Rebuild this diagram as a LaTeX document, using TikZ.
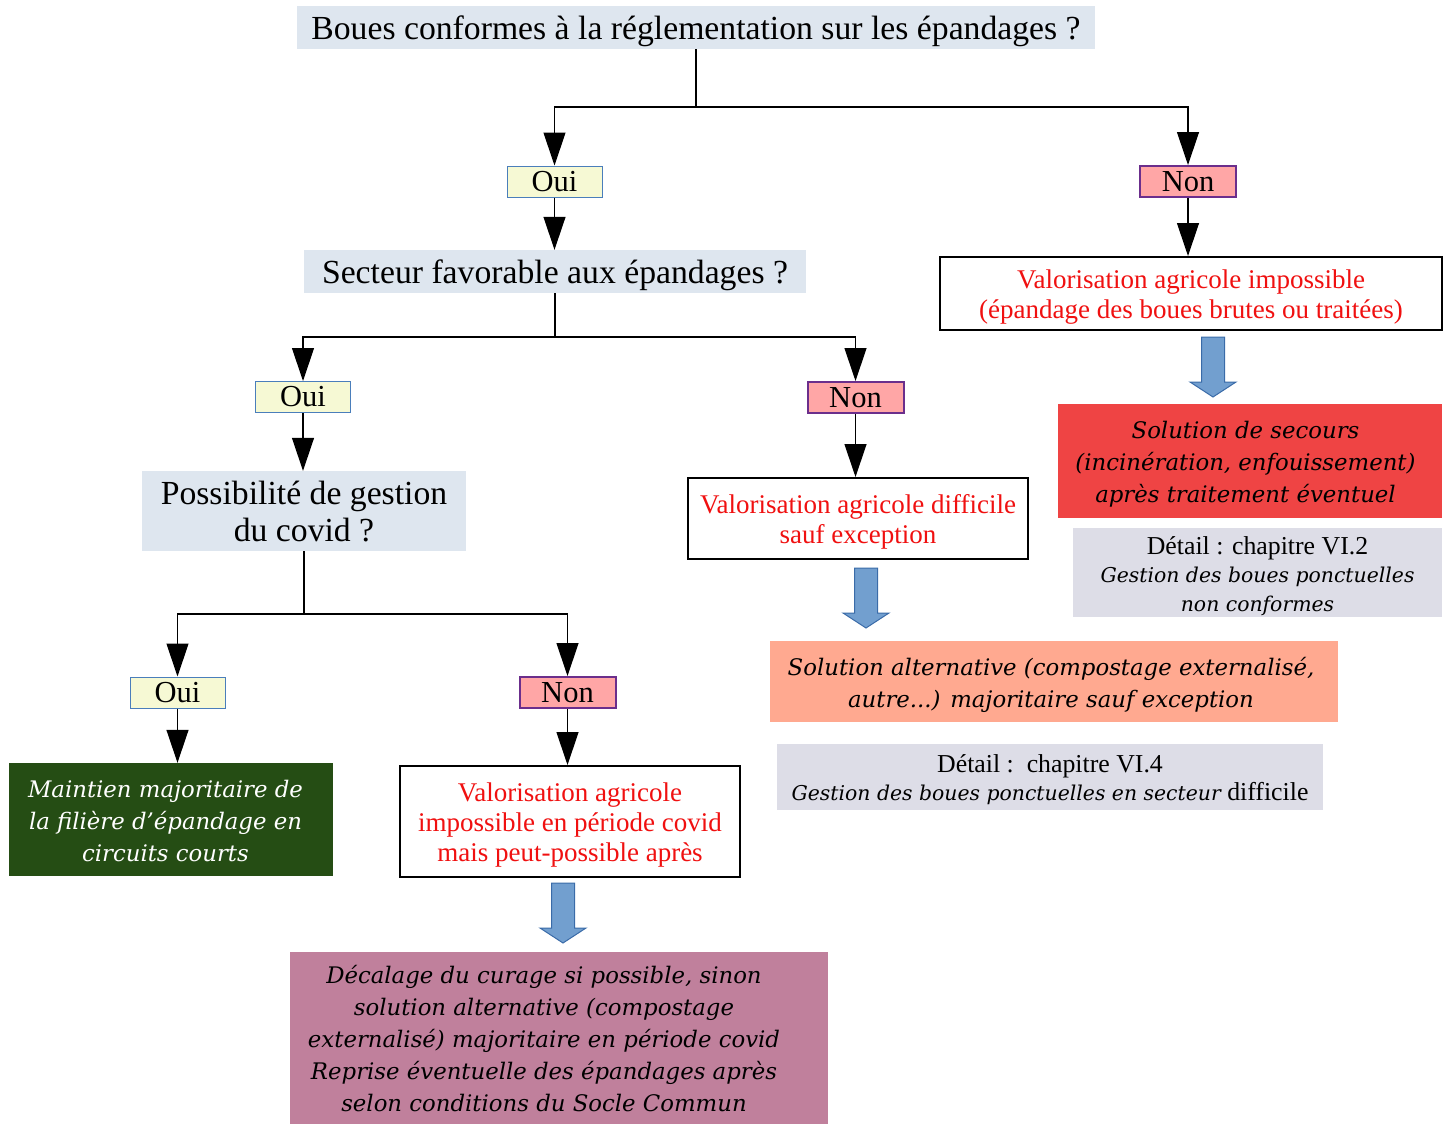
\documentclass[tikz,border=0pt]{standalone}
\usepackage{fontspec}
\setmainfont{Liberation Serif}
\newfontfamily\dvserif{DejaVu Serif}
\usetikzlibrary{arrows.meta}

\definecolor{qfill}{HTML}{DEE6EF}
\definecolor{ouifill}{HTML}{F6F9D4}
\definecolor{ouiline}{HTML}{4A7EBB}
\definecolor{nonfill}{HTML}{FFA6A6}
\definecolor{nonline}{HTML}{6B2E8C}
\definecolor{vred}{HTML}{F01010}
\definecolor{keepgreen}{HTML}{254D14}
\definecolor{backupred}{HTML}{EF4444}
\definecolor{altorange}{HTML}{FFA990}
\definecolor{covidpink}{HTML}{C0809C}
\definecolor{detfill}{HTML}{DDDDE7}
\definecolor{arrfill}{HTML}{729FCF}
\definecolor{arrline}{HTML}{3A6BA8}

% struts giving each text block the ascent / descent of its font
\newcommand\Ta{\rule{0pt}{\dimexpr0.891em+2pt\relax}}
\newcommand\Ba{\rule[-0.216em]{0pt}{0.216em}}
\newcommand\Td{\rule{0pt}{\dimexpr0.928em+4pt\relax}}
\newcommand\Bd{\rule[-0.236em]{0pt}{0.236em}}
\newcommand\pad[1]{\rule{#1}{0pt}}
\newcommand\detit[1]{{\dvserif\itshape\fontsize{20.4}{28.5}\selectfont #1}}

\begin{document}
\begin{tikzpicture}[x=1pt,y=-1pt,
  box/.style={inner sep=0pt, align=center, text=black},
  question/.style={box, fill=qfill, font=\fontsize{33.7}{37}\selectfont},
  oui/.style={box, fill=ouifill, draw=ouiline, line width=1pt,
    minimum width=95pt, minimum height=31pt, font=\fontsize{30.5}{32}\selectfont},
  non/.style={box, fill=nonfill, draw=nonline, line width=2pt,
    minimum width=96pt, minimum height=31pt, font=\fontsize{30.5}{32}\selectfont},
  verdict/.style={box, fill=white, draw=black, line width=2pt, text=vred,
    font=\fontsize{27}{30}\selectfont},
  solution/.style={box, font=\dvserif\itshape\fontsize{22.8}{32}\selectfont},
  detail/.style={box, fill=detfill, font=\fontsize{25.8}{28.5}\selectfont},
  link/.style={line width=1.2pt},
  flow/.style={link, -{Triangle[width=22pt,length=33pt]}},
  bigarrow/.style={fill=arrfill, draw=arrline, line width=1pt},
  downarrow/.pic={\path[bigarrow] (-11.5,0) -- (11.5,0) -- (11.5,45) -- (23,45)
    -- (0,60) -- (-23,45) -- (-11.5,45) -- cycle;}
]
\path[use as bounding box] (0,0) rectangle (1451,1124);

% questions and answers
\node[question, minimum width=798pt, minimum height=43pt] (q1) at (696,27.5)
  {\Ta Boues conformes à la réglementation sur les épandages ?\Ba};
\node[oui] (o1) at (554.5,181.5) {Oui};
\node[non] (n1) at (1188,181.5) {Non};
\node[question, minimum width=502pt, minimum height=43pt] (q2) at (555,271.5)
  {\Ta Secteur favorable aux épandages ?\Ba};
\node[oui] (o2) at (303,397) {Oui};
\node[non] (n2) at (855.5,397.5) {Non};
\node[question, minimum width=324pt, minimum height=80pt] (q3) at (304,511)
  {\Ta Possibilité de gestion\\du covid ?\Ba};
\node[oui] (o3) at (177.5,692.5) {Oui};
\node[non] (n3) at (567.5,692.5) {Non};

% outcomes
\node[verdict, minimum width=502pt, minimum height=73pt] (imp) at (1191,293.5)
  {\Ta Valorisation agricole impossible\\(épandage des boues brutes ou traitées)\Ba};
\node[verdict, minimum width=340pt, minimum height=81pt] (dif) at (858,518.5)
  {\Ta Valorisation agricole difficile\\sauf exception\Ba};
\node[verdict, minimum width=340pt, minimum height=111pt] (cov) at (570,821.5)
  {\Ta Valorisation agricole\\impossible en période covid\\mais peut-possible après\Ba};

\node[solution, fill=keepgreen, text=white, minimum width=324pt, minimum height=113pt] (keep) at (171,819.5)
  {\Td Maintien majoritaire de\pad{11pt}\\la filière d’épandage en\pad{11pt}\\circuits courts\pad{11pt}\Bd};
\node[solution, fill=backupred, minimum width=384pt, minimum height=114pt] (sec) at (1250,461)
  {\Td Solution de secours\pad{9pt}\\(incinération, enfouissement)\pad{9pt}\\après traitement éventuel\pad{9pt}\Bd};
\node[solution, fill=altorange, minimum width=568pt, minimum height=81pt] (alt) at (1054,681.5)
  {\Td Solution alternative (compostage externalisé,\pad{6pt}\\autre...) majoritaire sauf exception\pad{6pt}\Bd};
\node[solution, fill=covidpink, minimum width=538pt, minimum height=172pt] (dec) at (559,1038)
  {\Td Décalage du curage si possible, sinon\pad{30pt}\\solution alternative (compostage\pad{30pt}\\externalisé) majoritaire en période covid\pad{30pt}\\Reprise éventuelle des épandages après\pad{30pt}\\selon conditions du Socle Commun\pad{30pt}\Bd};

\node[detail, minimum width=369pt, minimum height=89pt] (d2) at (1257.5,572.5)
  {\Ta Détail : chapitre VI.2\\\detit{Gestion des boues ponctuelles}\\\detit{non conformes\Bd}};
\node[detail, minimum width=546pt, minimum height=66pt] (d4) at (1050,777)
  {\Ta Détail :\ \ chapitre VI.4\\\detit{Gestion des boues ponctuelles en secteur} difficile\Ba};

% branching connectors
\coordinate (j1) at (696,107);
\coordinate (j2) at (555,337);
\coordinate (j3) at (304,614);
\draw[link] (q1.south) -- (j1);
\draw[flow] (j1) -| (o1.north);
\draw[flow] (j1) -| (n1.north);
\draw[link] (q2.south) -- (j2);
\draw[flow] (j2) -| (o2.north);
\draw[flow] (j2) -| (n2.north);
\draw[link] (q3.south) -- (j3);
\draw[flow] (j3) -| (o3.north);
\draw[flow] (j3) -| (n3.north);

% answer to next step
\draw[flow] (o1.south) -- (o1.south |- q2.north);
\draw[flow] (o2.south) -- (o2.south |- q3.north);
\draw[flow] (o3.south) -- (o3.south |- keep.north);
\draw[flow] (n1.south) -- (n1.south |- imp.north);
\draw[flow] (n2.south) -- (n2.south |- dif.north);
\draw[flow] (n3.south) -- (n3.south |- cov.north);

% consequences
\pic at (1213,337) {downarrow};
\pic at (866,568) {downarrow};
\pic at (563,883) {downarrow};
\end{tikzpicture}
\end{document}
